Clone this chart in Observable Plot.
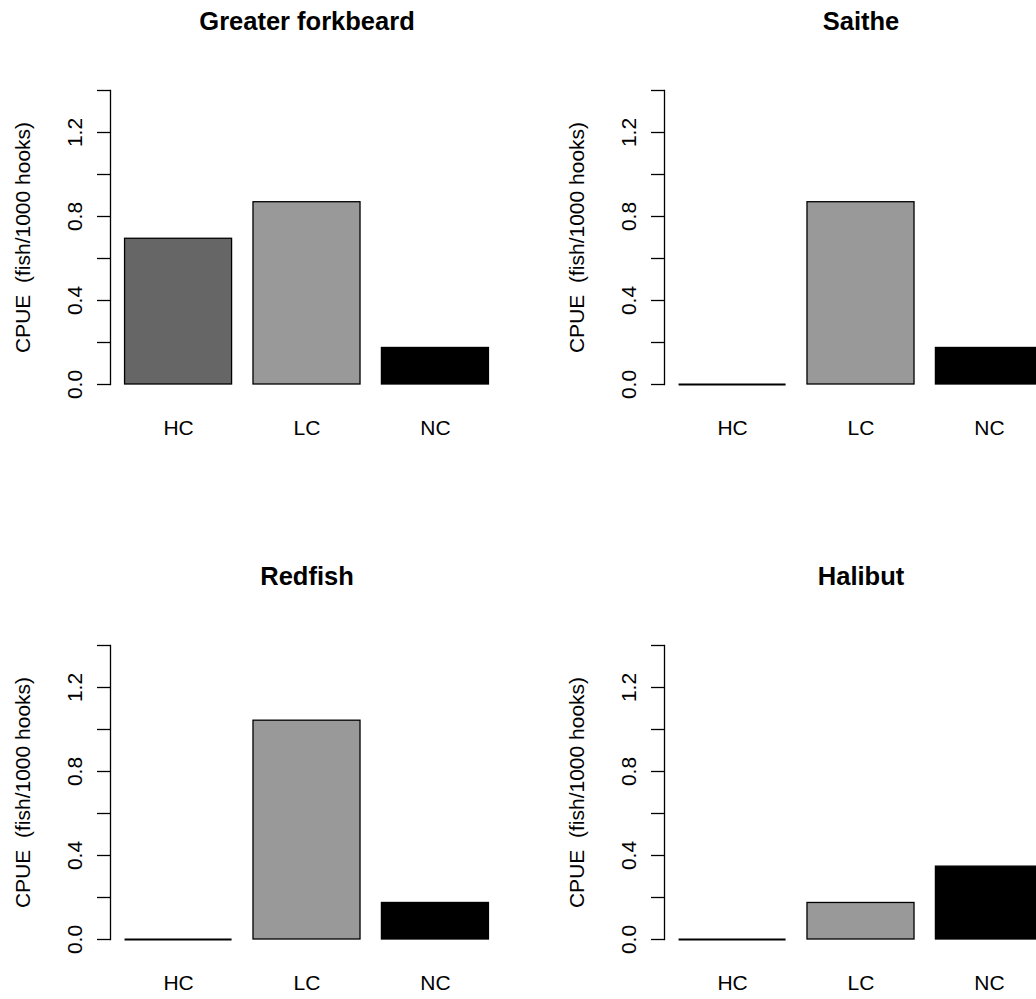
<!DOCTYPE html>
<html>
<head>
<meta charset="utf-8">
<script src="https://cdn.jsdelivr.net/npm/d3@7"></script>
<script src="https://cdn.jsdelivr.net/npm/@observablehq/plot@0.6"></script>
<style>
html, body { margin: 0; padding: 0; background: #fff; }
#chart { position: relative; width: 1036px; height: 999px; overflow: hidden; background: #fff; }
#chart svg { position: absolute; }
</style>
</head>
<body>
<div id="chart"></div>
<script>
// ---- data ----
const species = ["Greater forkbeard", "Saithe", "Redfish", "Halibut"];
const conditions = ["HC", "LC", "NC"];
const forkbeardCPUE = [0.694, 0.868, 0.174];
const saitheCPUE = [0, 0.868, 0.174];
const redfishCPUE = [0, 1.042, 0.174];
const halibutCPUE = [0, 0.174, 0.347];
const yTicks = [0, 0.2, 0.4, 0.6, 0.8, 1.0, 1.2, 1.4];
const yTickLabels = [0, 0.4, 0.8, 1.2];
const yTitle = "CPUE  (fish/1000 hooks)";
const barColors = ["#666666", "#999999", "#000000"];

const seriesBySpecies = [forkbeardCPUE, saitheCPUE, redfishCPUE, halibutCPUE];

// ---- layout ----
const panelW = 555, panelH = 555;
const offsets = [[0, 0], [554, 0], [0, 555], [554, 555]];
const font = "'Liberation Sans', Arial, Helvetica, sans-serif";

function panel(title, values) {
  const data = conditions.map((c, i) => ({cond: c, value: values[i]}));
  return Plot.plot({
    width: panelW,
    height: panelH,
    marginLeft: 110,
    marginRight: 52,
    marginTop: 90,
    marginBottom: 171,
    style: {fontFamily: font, fontSize: "21px", color: "#000", background: "transparent", overflow: "visible"},
    x: {type: "band", domain: conditions, paddingInner: 0.2 / 1.2, paddingOuter: 0.1133, align: 0.5, round: false},
    y: {domain: [0, 1.4]},
    color: {domain: conditions, range: barColors},
    marks: [
      Plot.frame({anchor: "left", stroke: "#000", strokeWidth: 1.3}),
      Plot.axisY({ticks: yTicks, tickSize: 13, tickFormat: () => "", label: null, stroke: "#000", strokeWidth: 1.3}),
      Plot.text(yTickLabels, {y: d => d, text: d => d.toFixed(1), frameAnchor: "left", dx: -35, rotate: -90, textAnchor: "middle", lineAnchor: "middle", fill: "#000"}),
      Plot.axisX({tickSize: 0, tickPadding: 35.5, label: null, fill: "#000"}),
      Plot.barY(data, {x: "cond", y: "value", fill: "cond", stroke: "#000", strokeWidth: 1.3}),
      Plot.tickY(data.filter(d => d.value === 0), {x: "cond", y: "value", stroke: "#000", strokeWidth: 2.2}),
      Plot.text([yTitle], {frameAnchor: "left", dx: -87, rotate: -90, textAnchor: "middle", lineAnchor: "middle", fill: "#000"}),
      Plot.text([title], {frameAnchor: "top", dy: -69, fontSize: 25.5, fontWeight: "bold", lineAnchor: "middle", fill: "#000"})
    ]
  });
}

const chart = document.getElementById("chart");
species.forEach((name, i) => {
  const svg = panel(name, seriesBySpecies[i]);
  svg.style.left = offsets[i][0] + "px";
  svg.style.top = offsets[i][1] + "px";
  chart.appendChild(svg);
});
</script>
</body>
</html>
